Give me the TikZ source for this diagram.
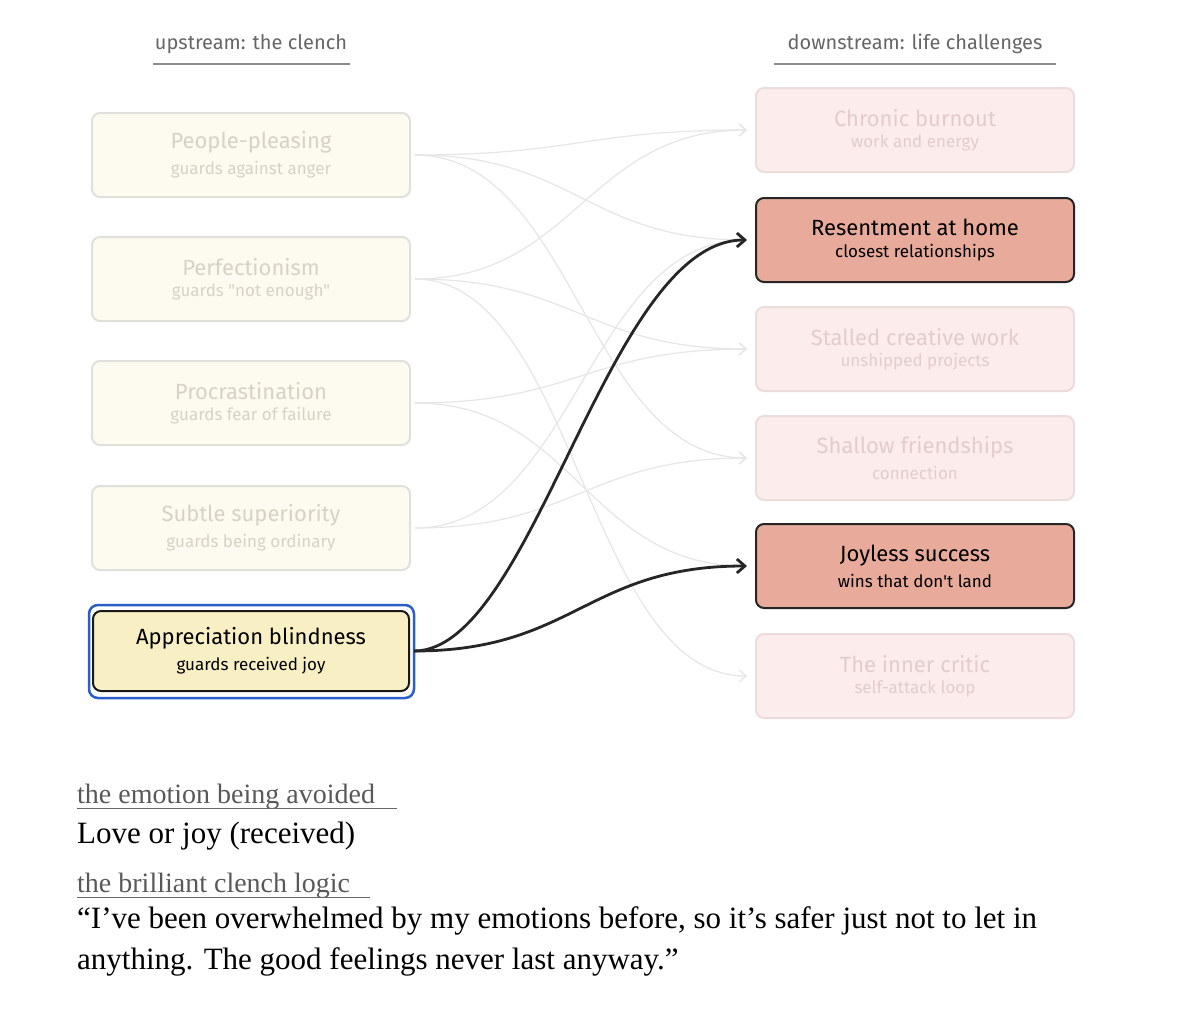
\documentclass[tikz,border=0pt]{standalone}
\usepackage{fontspec}
\setmainfont{Liberation Serif}
\newfontfamily\hand{Fira Sans}
\usetikzlibrary{arrows.meta,calc}
\definecolor{lfill}{HTML}{FDFBEF}
\definecolor{lborder}{HTML}{E2E0DA}
\definecolor{ltext}{HTML}{D6D3C6}
\definecolor{rfill}{HTML}{FCEDEC}
\definecolor{rborder}{HTML}{ECDCDC}
\definecolor{rtext}{HTML}{E2CCCC}
\definecolor{hot}{HTML}{E8AA9A}
\definecolor{appfill}{HTML}{F8F0C4}
\definecolor{blueo}{HTML}{2A5FC8}
\definecolor{faint}{HTML}{E6E6E6}
\newcommand{\ttlf}{\hand\fontsize{22}{24}\selectfont}
\newcommand{\subf}{\hand\fontsize{17}{20}\selectfont}
\tikzset{
 box/.style={rounded corners=8pt,minimum width=318pt,minimum height=84pt,line width=2pt,align=center},
 lbox/.style={box,fill=lfill,draw=lborder,text=ltext},
 rbox/.style={box,fill=rfill,draw=rborder,text=rtext},
 hbox/.style={box,fill=hot,draw=black!85,text=black},
 fl/.style={draw=faint,line width=1.2pt,-{Straight Barb[length=7pt,width=12pt]}},
 bl/.style={draw=black!85,line width=2.8pt,-{Straight Barb[length=8pt,width=14pt]}},
 hdr/.style={font=\hand\fontsize{20}{22}\selectfont,text=black!60},
 lab/.style={font=\fontsize{28}{30}\selectfont,text=black!65,anchor=base west,inner sep=0pt},
 body/.style={font=\fontsize{31}{41}\selectfont,anchor=base west,align=left,inner sep=0pt},
}
\newcommand{\bx}[5]{\node[#1] (#2) at #3 {{\ttlf #4}\\[7pt]{\subf #5}};}
\begin{document}
\begin{tikzpicture}[x=1pt,y=-1pt]
\useasboundingbox[fill=white] (0,0) rectangle (1200,1028);
\node[hdr] (h1) at (251,44) {upstream: the clench};
\draw[black!45,line width=1.2pt] (153,64) -- (350,64);
\node[hdr] (h2) at (915,44) {downstream: life challenges};
\draw[black!45,line width=1.2pt] (774,64) -- (1056,64);

\bx{lbox}{PP}{(251,155)}{People-pleasing}{guards against anger}
\bx{lbox}{PF}{(251,279)}{Perfectionism}{guards "not enough"}
\bx{lbox}{PR}{(251,403)}{Procrastination}{guards fear of failure}
\bx{lbox}{SU}{(251,528)}{Subtle superiority}{guards being ordinary}
\draw[blueo,line width=2.5pt,rounded corners=9pt] (89,605) rectangle (414,698);
\node[box,fill=appfill,draw=black!90,text=black,minimum width=316pt,minimum height=80pt] (AP) at (251,651) {{\ttlf Appreciation blindness}\\[7pt]{\subf guards received joy}};

\bx{rbox}{CB}{(915,130)}{Chronic burnout}{work and energy}
\bx{hbox}{RE}{(915,240)}{Resentment at home}{closest relationships}
\bx{rbox}{SC}{(915,349)}{Stalled creative work}{unshipped projects}
\bx{rbox}{SF}{(915,458)}{Shallow friendships}{connection}
\bx{hbox}{JS}{(915,566)}{Joyless success}{wins that don't land}
\bx{rbox}{IC}{(915,676)}{The inner critic}{self-attack loop}

\foreach \n in {PP,PF,PR,SU,AP}{\coordinate (\n o) at ($(\n.east)+(4,0)$);}
\foreach \n in {CB,RE,SC,SF,JS,IC}{\coordinate (\n i) at ($(\n.west)+(-8,0)$);}
\foreach \a/\b in {PPo/CBi,PPo/REi,PPo/SFi,PFo/CBi,PFo/SCi,PFo/ICi,PRo/SCi,PRo/JSi,SUo/REi,SUo/SFi}{
 \draw[fl] (\a) .. controls ($(\a)+(160,0)$) and ($(\b)+(-160,0)$) .. (\b);}
\draw[bl] (APo) .. controls ($(APo)+(120,0)$) and ($(REi)+(-140,0)$) .. (REi);
\draw[bl] (APo) .. controls ($(APo)+(160,0)$) and ($(JSi)+(-160,0)$) .. (JSi);

\node[lab] (l1) at (77,803) {the emotion being avoided};
\draw[black!60,line width=1pt] (77,808) -- (397,808);
\node[body] (b1) at (77,843) {Love or joy (received)};
\node[lab] (l2) at (77,892) {the brilliant clench logic};
\draw[black!60,line width=1pt] (77,897) -- (370,897);
\node[body,anchor=north west] (b2) at (77,906) {“I’ve been overwhelmed by my emotions before, so it’s safer just not to let in\\anything. The good feelings never last anyway.”};
\end{tikzpicture}
\end{document}
